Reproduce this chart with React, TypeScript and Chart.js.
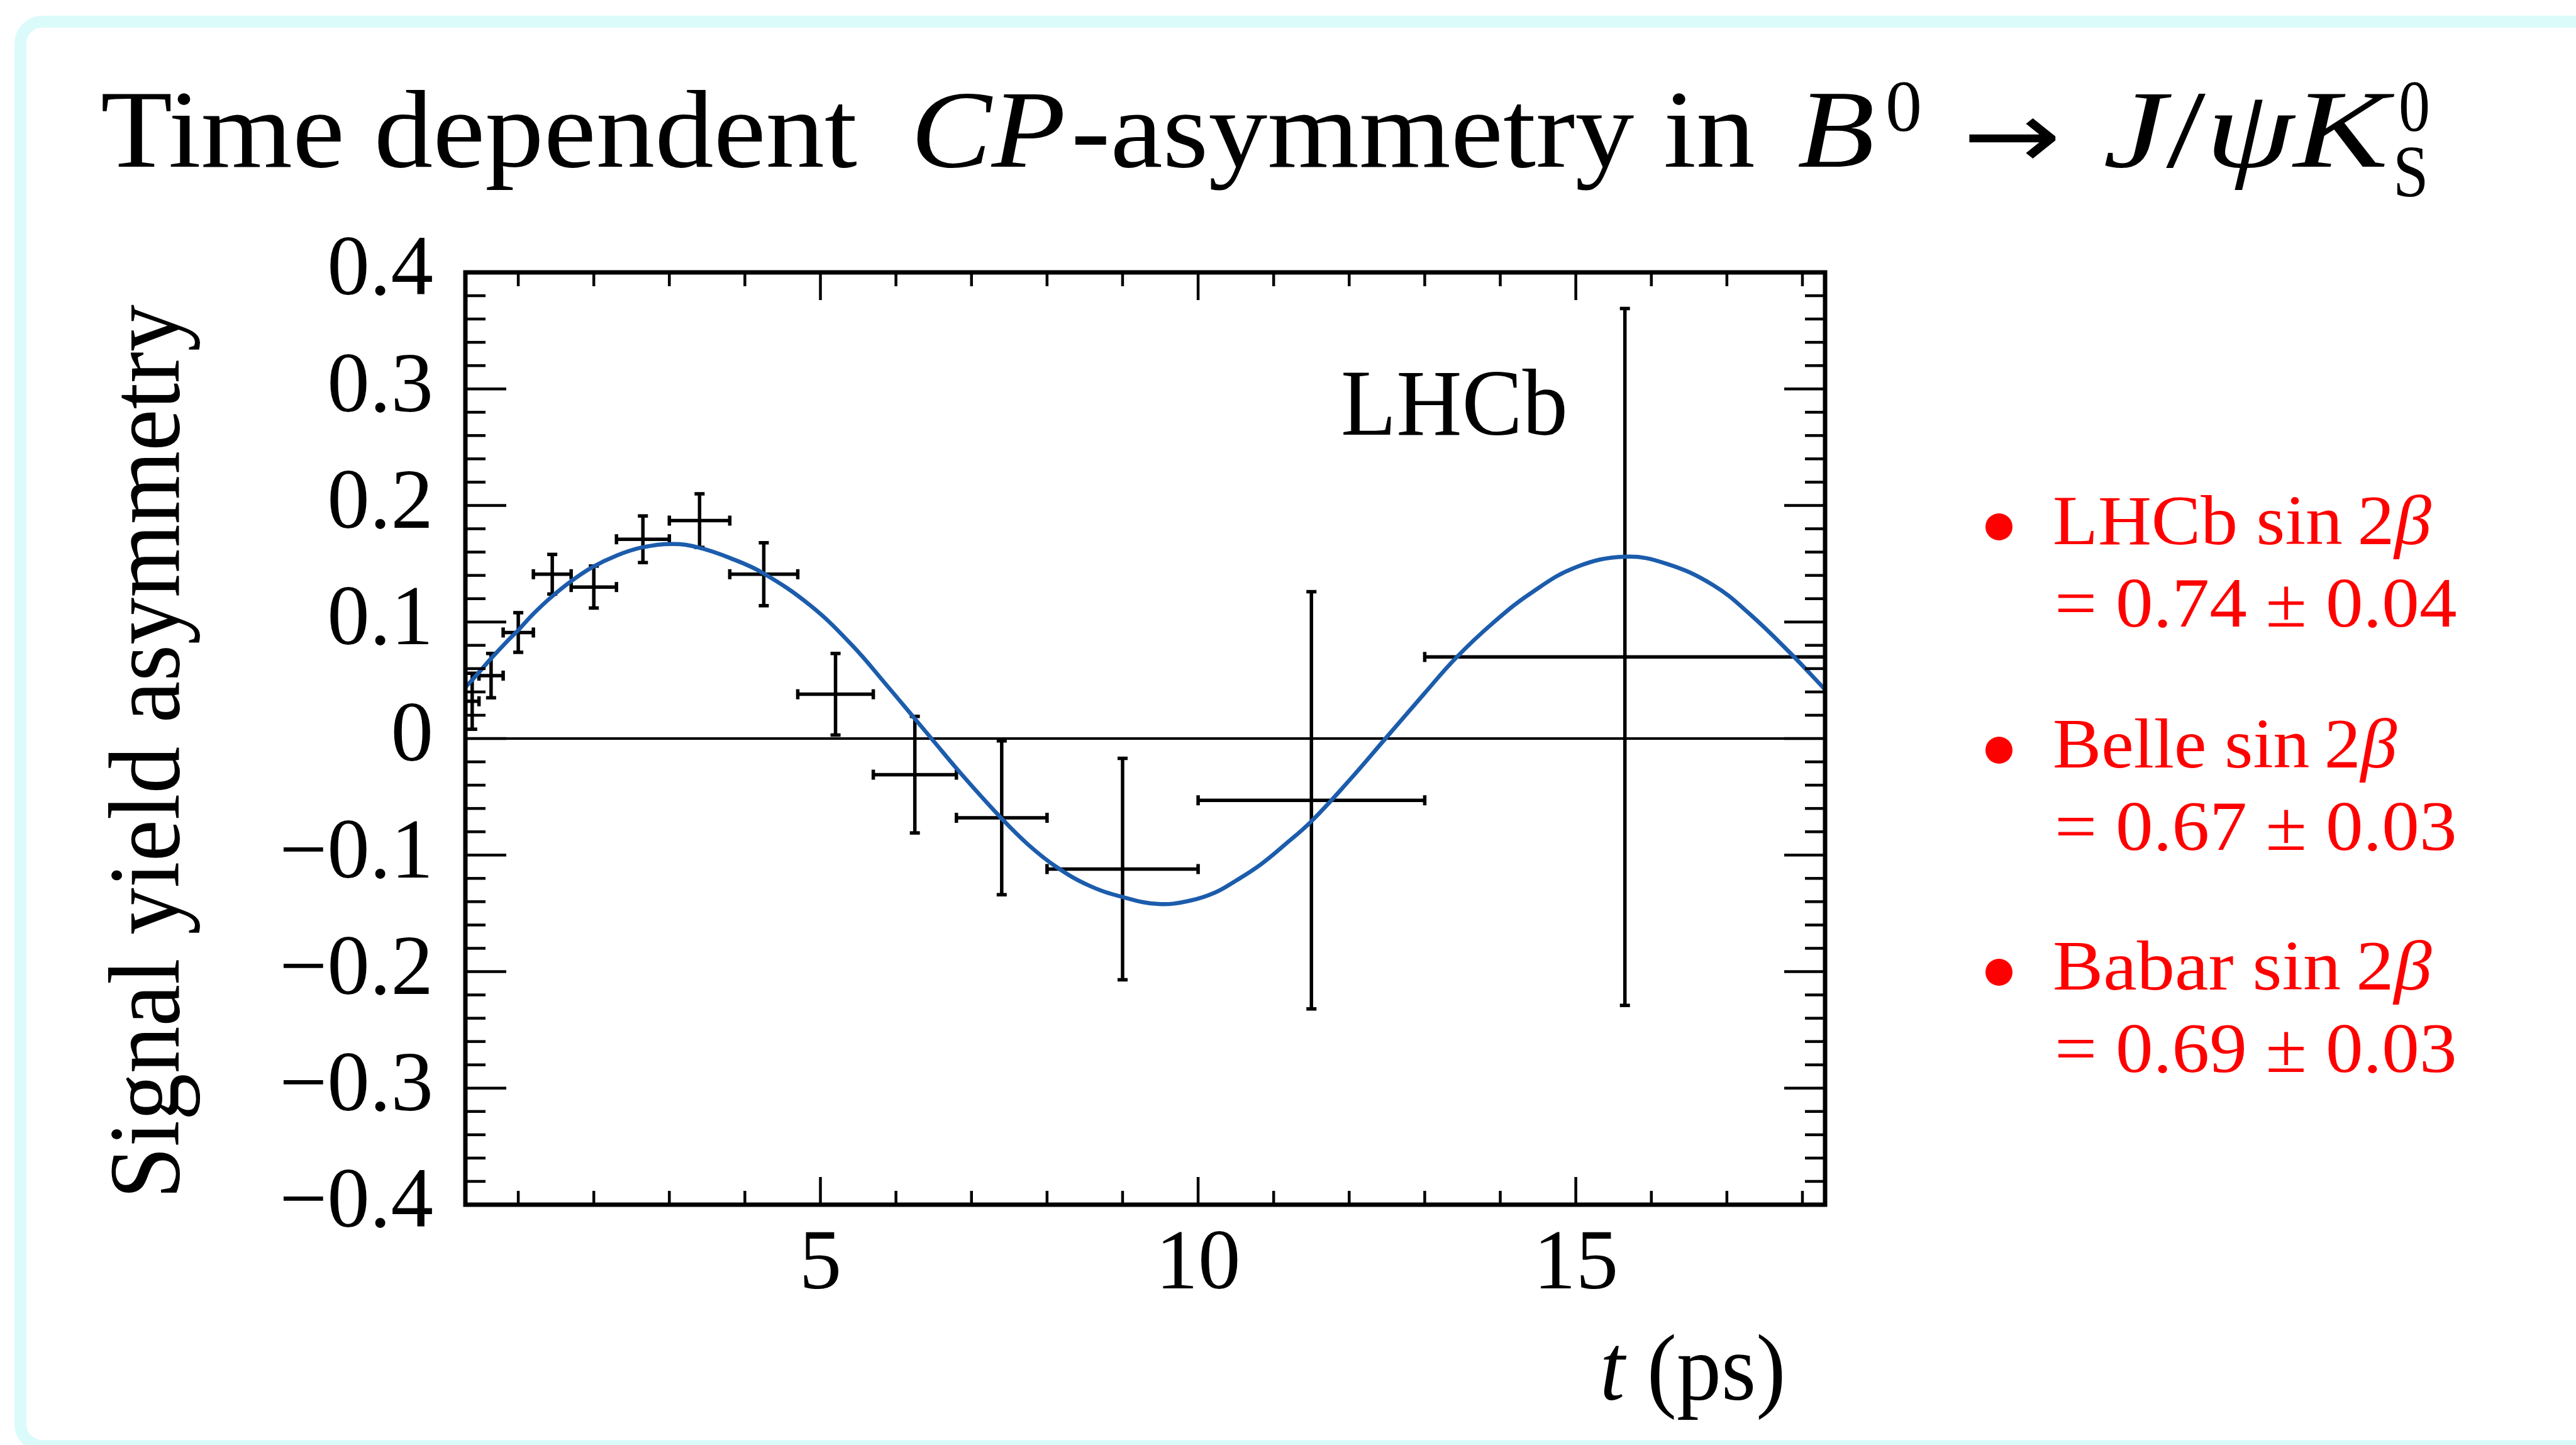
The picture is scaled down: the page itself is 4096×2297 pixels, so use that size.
import React, { useEffect, useLayoutEffect, useRef } from 'react';
import { Chart, registerables } from 'chart.js';

Chart.register(...registerables);

// Binned signal-yield asymmetry: bin edges and centres in t (ps), value and error
const binLow = [0.3, 0.48, 0.8, 1.2, 1.7, 2.3, 3.0, 3.8, 4.7, 5.7, 6.8, 8.0, 10.0, 13.0];
const binHigh = [0.48, 0.8, 1.2, 1.7, 2.3, 3.0, 3.8, 4.7, 5.7, 6.8, 8.0, 10.0, 13.0, 18.3];
const binCentre = [0.39, 0.64, 1.0, 1.45, 2.0, 2.65, 3.4, 4.25, 5.2, 6.25, 7.4, 9.0, 11.5, 15.65];
const asymmetry = [0.032, 0.054, 0.091, 0.141, 0.13, 0.171, 0.187, 0.141, 0.038, -0.031, -0.068, -0.112, -0.053, 0.07];
const asymmetryErr = [0.024, 0.019, 0.017, 0.017, 0.018, 0.02, 0.023, 0.027, 0.035, 0.05, 0.066, 0.095, 0.179, 0.299];

// Fitted asymmetry curve sampled along t (ps)
const fitTime = [
  0.3, 0.47, 0.63, 0.86, 1.0, 1.2, 1.43, 1.7, 1.98, 2.3, 2.64, 3.05, 3.38, 3.8, 4.24, 4.87,
  5.42, 5.9, 6.25, 6.47, 6.9, 7.39, 7.75, 8.12, 8.55, 9.0, 9.48, 9.9, 10.23, 10.5, 10.83,
  11.15, 11.5, 12.0, 12.48, 13.0, 13.41, 13.9, 14.41, 15.0, 15.65, 16.2, 16.81, 17.3, 17.86, 18.3,
];
const fitAsymmetry = [
  0.044, 0.056, 0.068, 0.084, 0.093, 0.107, 0.121, 0.135, 0.147, 0.157, 0.164, 0.167, 0.164, 0.155, 0.142, 0.114,
  0.08, 0.044, 0.017, 0.0, -0.033, -0.068, -0.091, -0.11, -0.126, -0.136, -0.142, -0.139, -0.132, -0.122, -0.108,
  -0.091, -0.071, -0.036, 0.0, 0.039, 0.069, 0.099, 0.125, 0.147, 0.156, 0.15, 0.132, 0.107, 0.072, 0.042,
];

// Axis ticks
const xTickValues = [5, 10, 15];
const yTickValues = [-0.4, -0.3, -0.2, -0.1, 0, 0.1, 0.2, 0.3, 0.4];

// sin 2β measurements listed beside the plot
const experiments = ['LHCb', 'Belle', 'Babar'];
const sin2beta = ['0.74', '0.67', '0.69'];
const sin2betaErr = ['0.04', '0.03', '0.03'];

const FONT = '"Liberation Serif", "Times New Roman", serif';
const W = 4096;
const H = 2297;
const CURVE_BLUE = '#1c5cac';
const RED = '#ff0000';

const fmtY = (v: number) => {
  if (Math.abs(v) < 1e-9) return '0';
  const s = Math.abs(v).toFixed(1);
  return v < 0 ? '\u2212' + s : s;
};

// ROOT-style frame: zero line, error crosses, inward ticks on all four sides
const rootFramePlugin = {
  id: 'rootFrame',
  beforeDatasetsDraw(chart: any) {
    const { ctx, chartArea: a, scales } = chart;
    const x = scales.x;
    const y = scales.y;
    const seg = (x1: number, y1: number, x2: number, y2: number) => {
      ctx.beginPath();
      ctx.moveTo(x1, y1);
      ctx.lineTo(x2, y2);
      ctx.stroke();
    };
    ctx.save();
    ctx.strokeStyle = '#000';
    ctx.lineCap = 'butt';
    ctx.lineWidth = 4;
    const y0 = y.getPixelForValue(0);
    seg(a.left, y0, a.right, y0);

    ctx.lineWidth = 5.5;
    const cap = 8;
    for (let i = 0; i < binCentre.length; i++) {
      const xl = x.getPixelForValue(binLow[i]);
      const xh = x.getPixelForValue(binHigh[i]);
      const xc = x.getPixelForValue(binCentre[i]);
      const yc = y.getPixelForValue(asymmetry[i]);
      const yl = y.getPixelForValue(asymmetry[i] - asymmetryErr[i]);
      const yh = y.getPixelForValue(asymmetry[i] + asymmetryErr[i]);
      seg(xl, yc, xh, yc);
      seg(xc, yl, xc, yh);
      seg(xl, yc - cap, xl, yc + cap);
      seg(xh, yc - cap, xh, yc + cap);
      seg(xc - cap, yl, xc + cap, yl);
      seg(xc - cap, yh, xc + cap, yh);
    }
    ctx.restore();
  },
  afterDatasetsDraw(chart: any) {
    const { ctx, chartArea: a, scales } = chart;
    const x = scales.x;
    const y = scales.y;
    const seg = (x1: number, y1: number, x2: number, y2: number) => {
      ctx.beginPath();
      ctx.moveTo(x1, y1);
      ctx.lineTo(x2, y2);
      ctx.stroke();
    };
    ctx.save();
    ctx.strokeStyle = '#000';
    ctx.lineWidth = 4.5;
    // y ticks every 0.02, major every 0.1
    for (let k = -20; k <= 20; k++) {
      const py = y.getPixelForValue(k * 0.02);
      const len = k % 5 === 0 ? 65 : 32;
      seg(a.left, py, a.left + len, py);
      seg(a.right, py, a.right - len, py);
    }
    // t ticks every 1 ps, major every 5 ps
    for (let t = 1; t <= 18; t++) {
      const px = x.getPixelForValue(t);
      const len = t % 5 === 0 ? 44 : 22;
      seg(px, a.bottom, px, a.bottom - len);
      seg(px, a.top, px, a.top + len);
    }
    ctx.lineWidth = 7;
    ctx.strokeRect(a.left, a.top, a.right - a.left, a.bottom - a.top);
    ctx.restore();
  },
};

type FitProps = {
  x: number;
  y: number;
  width: number;
  size: number;
  color?: string;
  family?: string;
  vertical?: boolean;
  children: React.ReactNode;
};

// Text placed by its baseline and stretched to a given run length
function FitText({ x, y, width, size, color = '#000', family = FONT, vertical = false, children }: FitProps) {
  const ref = useRef<HTMLDivElement>(null);
  useLayoutEffect(() => {
    const el = ref.current;
    if (!el) return;
    const natural = el.offsetWidth;
    const k = natural > 0 ? width / natural : 1;
    el.style.transform = vertical ? `rotate(-90deg) scaleX(${k})` : `scaleX(${k})`;
  }, [width, vertical]);
  const asc = 0.8375 * size;
  const style: React.CSSProperties = {
    position: 'absolute',
    left: vertical ? x - asc : x,
    top: vertical ? y : y - asc,
    fontFamily: family,
    fontSize: size,
    lineHeight: 1,
    whiteSpace: 'nowrap',
    color,
    transformOrigin: '0 0',
  };
  return (
    <div ref={ref} style={style}>
      {children}
    </div>
  );
}

function AsymmetryChart() {
  const canvasRef = useRef<HTMLCanvasElement>(null);
  useEffect(() => {
    const canvas = canvasRef.current;
    if (!canvas) return;
    const chart = new Chart(canvas, {
      type: 'line',
      data: {
        datasets: [
          {
            label: 'fit',
            data: fitTime.map((t, i) => ({ x: t, y: fitAsymmetry[i] })),
            borderColor: CURVE_BLUE,
            borderWidth: 6.5,
            pointRadius: 0,
            tension: 0.4,
            fill: false,
          },
        ],
      },
      options: {
        responsive: false,
        maintainAspectRatio: false,
        animation: false,
        devicePixelRatio: 1,
        layout: { padding: { left: 0, right: W - 2902, top: 433, bottom: 0 } },
        plugins: {
          legend: { display: false },
          tooltip: { enabled: false },
          title: { display: false },
        },
        scales: {
          x: {
            type: 'linear',
            min: 0.3,
            max: 18.3,
            grid: { display: false, drawTicks: false },
            border: { display: false },
            ticks: {
              color: '#000',
              font: { family: FONT, size: 135 },
              padding: 17,
              autoSkip: false,
              maxRotation: 0,
              minRotation: 0,
              callback: (v: any) => String(v),
            },
            afterBuildTicks: (s: any) => {
              s.ticks = xTickValues.map((v) => ({ value: v }));
            },
            afterFit: (s: any) => {
              s.height = H - 1915;
            },
          },
          y: {
            type: 'linear',
            min: -0.4,
            max: 0.4,
            grid: { display: false, drawTicks: false },
            border: { display: false },
            ticks: {
              color: '#000',
              font: { family: FONT, size: 135 },
              padding: 51,
              autoSkip: false,
              callback: (v: any) => fmtY(Number(v)),
            },
            afterBuildTicks: (s: any) => {
              s.ticks = yTickValues.map((v) => ({ value: v }));
            },
            afterFit: (s: any) => {
              s.width = 740;
            },
          },
        },
      } as any,
      plugins: [rootFramePlugin],
    });
    return () => chart.destroy();
  }, []);
  return (
    <canvas
      ref={canvasRef}
      width={W}
      height={H}
      style={{ position: 'absolute', left: 0, top: 0, width: W, height: H }}
    />
  );
}

export default function App() {
  const legendBaselines = [865, 1220, 1573];
  const legendWidths = [602, 547, 602];
  return (
    <div
      style={{
        position: 'fixed',
        left: 0,
        top: 0,
        width: W,
        height: H,
        overflow: 'hidden',
        background: '#fff',
      }}
    >
      <div
        style={{
          position: 'absolute',
          left: 23,
          top: 25,
          width: W + 200,
          height: 2283,
          border: '19px solid #dbfbfb',
          borderRadius: 44,
          boxSizing: 'border-box',
          background: '#fff',
        }}
      />
      <AsymmetryChart />

      {/* slide title */}
      <FitText x={160} y={266} width={1203} size={175}>Time dependent</FitText>
      <FitText x={1448} y={266} width={247} size={175}><i>CP</i></FitText>
      <FitText x={1703} y={266} width={1088} size={175}>-asymmetry in</FitText>
      <FitText x={2858} y={266} width={123} size={175}><i>B</i></FitText>
      <FitText x={2998} y={208} width={58} size={116}>0</FitText>
      <FitText x={3121} y={266} width={157} size={150} family={'"DejaVu Sans", sans-serif'}>
        {'\u2192'}
      </FitText>
      <FitText x={3344} y={266} width={454} size={175}>
        <i>J</i>/<i>{'\u03C8'}</i><i>K</i>
      </FitText>
      <FitText x={3814} y={208} width={50} size={116}>0</FitText>
      <FitText x={3805} y={312} width={57} size={116}>S</FitText>

      {/* axis titles and experiment label */}
      <FitText x={284} y={1906} width={1422} size={160} vertical>
        Signal yield asymmetry
      </FitText>
      <FitText x={2544} y={2225} width={295} size={150}>
        <i>t</i> (ps)
      </FitText>
      <FitText x={2132} y={691} width={361} size={150}>LHCb</FitText>

      {/* sin 2β list */}
      {experiments.map((name, i) => (
        <React.Fragment key={name}>
          <div
            style={{
              position: 'absolute',
              left: 3178 - 21.5,
              top: legendBaselines[i] - 28 - 21.5,
              width: 43,
              height: 43,
              borderRadius: '50%',
              background: RED,
            }}
          />
          <FitText x={3264} y={legendBaselines[i]} width={legendWidths[i]} size={112} color={RED}>
            {name} sin{'\u2009'}2<i>{'\u03B2'}</i>
          </FitText>
          <FitText x={3267} y={legendBaselines[i] + 131} width={640} size={112} color={RED}>
            = {sin2beta[i]} {'\u00B1'} {sin2betaErr[i]}
          </FitText>
        </React.Fragment>
      ))}
    </div>
  );
}
